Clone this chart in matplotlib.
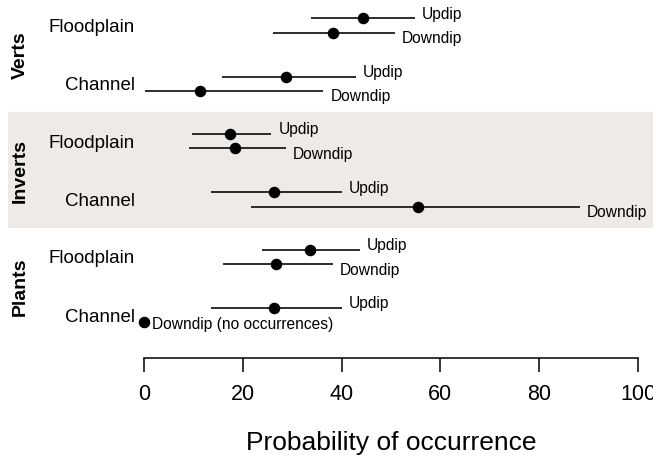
import matplotlib
matplotlib.use("Agg")
import matplotlib.pyplot as plt
from matplotlib.patches import Rectangle

plt.rcParams['font.family'] = ['Liberation Sans', 'DejaVu Sans']

# ---- data ----
groups = ["Verts", "Inverts", "Plants"]
habitats = ["Floodplain", "Channel"]
dips = ["Updip", "Downdip"]

# mean, lower, upper for each group -> habitat -> [Updip, Downdip]
verts_fp_mean = [44.3, 38.3]
verts_fp_lo = [33.8, 26.2]
verts_fp_hi = [54.9, 50.8]
verts_ch_mean = [28.7, 11.3]
verts_ch_lo = [15.7, 0.2]
verts_ch_hi = [42.9, 36.3]

inv_fp_mean = [17.4, 18.4]
inv_fp_lo = [9.8, 9.1]
inv_fp_hi = [25.8, 28.7]
inv_ch_mean = [26.3, 55.5]
inv_ch_lo = [13.5, 21.6]
inv_ch_hi = [40.1, 88.3]

pl_fp_mean = [33.7, 26.7]
pl_fp_lo = [23.9, 15.9]
pl_fp_hi = [43.7, 38.3]
pl_ch_mean = [26.3, 0.0]
pl_ch_lo = [13.5, 0.0]
pl_ch_hi = [40.1, 0.0]

no_occ_label = "Downdip (no occurrences)"

x_ticks = [0, 20, 40, 60, 80, 100]
x_label = "Probability of occurrence"

table = {
    "Verts": {"Floodplain": (verts_fp_mean, verts_fp_lo, verts_fp_hi),
              "Channel": (verts_ch_mean, verts_ch_lo, verts_ch_hi)},
    "Inverts": {"Floodplain": (inv_fp_mean, inv_fp_lo, inv_fp_hi),
                "Channel": (inv_ch_mean, inv_ch_lo, inv_ch_hi)},
    "Plants": {"Floodplain": (pl_fp_mean, pl_fp_lo, pl_fp_hi),
               "Channel": (pl_ch_mean, pl_ch_lo, pl_ch_hi)},
}

# ---- layout (pixel based) ----
W, H = 653, 464
fig = plt.figure(figsize=(W / 100, H / 100), dpi=100)
ax_left, ax_right, ax_bottom_px = 144, 638, 359
ax = fig.add_axes([ax_left / W, 1 - ax_bottom_px / H, (ax_right - ax_left) / W, ax_bottom_px / H])
ax.set_facecolor('none')
ax.set_xlim(0, 100)
ax.set_ylim(ax_bottom_px, 0)

y0, g_step, h_step, d_step = 19.3, 115.7, 58.3, 14.4

# shaded band for Inverts
band = Rectangle((8 / W, 1 - 229.3 / H), (W - 8) / W, (229.3 - 113) / H,
                 transform=fig.transFigure, facecolor='#EEEAE8', edgecolor='none', zorder=-5)
fig.patches.append(band)

for gi, g in enumerate(groups):
    for hi_, h in enumerate(habitats):
        mean, lo, hi = table[g][h]
        ys = []
        for di, d in enumerate(dips):
            y = y0 + gi * g_step + hi_ * h_step + di * d_step
            ys.append(y)
            if hi[di] > lo[di]:
                ax.plot([lo[di], hi[di]], [y, y], color='black', lw=1.15,
                        solid_capstyle='butt', clip_on=False, zorder=2)
                dy = 5 if di == 0 else -5
                ax.annotate(d, xy=(hi[di], y), xytext=(7, dy), textcoords='offset pixels',
                            ha='left', va='center', fontsize=11.2, annotation_clip=False)
            else:
                ax.annotate(no_occ_label, xy=(mean[di], y), xytext=(8, -1), textcoords='offset pixels',
                            ha='left', va='center', fontsize=11.2, annotation_clip=False)
            ax.plot([mean[di]], [y], 'o', color='black', ms=7.3, clip_on=False, zorder=3)
        ax.text(-9 / 4.94, (ys[0] + ys[1]) / 2 + 1, h, ha='right', va='center', fontsize=13.5)
    gy = y0 + gi * g_step + (h_step + d_step) / 2
    ax.text(-124 / 4.94, gy, g, rotation=90, ha='center', va='center', fontsize=14,
            fontweight='bold')

for s in ['top', 'right', 'left']:
    ax.spines[s].set_visible(False)
ax.spines['bottom'].set_linewidth(1.1)
ax.spines['bottom'].set_bounds(0, 100)
ax.set_yticks([])
ax.set_xticks(x_ticks)
ax.set_xticklabels([str(t) for t in x_ticks])
ax.tick_params(axis='x', length=10, width=1.1, labelsize=15.5, pad=8)
ax.set_xlabel(x_label, fontsize=19, labelpad=19)

fig.savefig("out.png", dpi=100)
